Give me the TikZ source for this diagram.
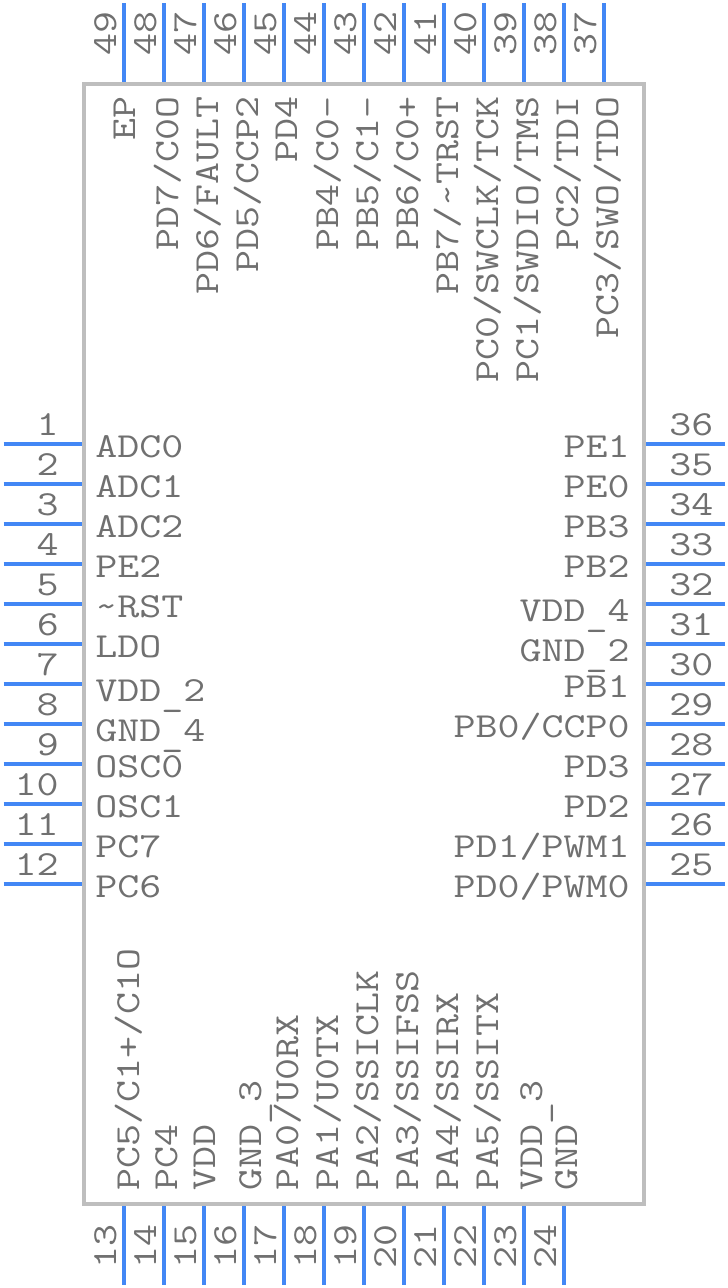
\documentclass[tikz,border=0pt]{standalone}
\usepackage{fontspec}
\setmonofont[FakeStretch=1.215]{Latin Modern Mono}
\definecolor{bodygray}{HTML}{BEBEBE}
\definecolor{pinblue}{HTML}{4287F5}
\definecolor{textgray}{HTML}{707070}
\newcommand{\lowbar}{\raisebox{-3.2pt}{\_}}
\tikzset{
  chip/.style={draw=bodygray, line width=2.85pt, rectangle, inner sep=0pt, minimum width=14cm, minimum height=28cm},
  pinline/.style={pinblue, line width=2.85pt},
  lbl/.style={text=textgray, inner sep=0pt, font=\ttfamily\fontsize{25}{30}\selectfont},
  lbll/.style={lbl, anchor=base west},
  lblr/.style={lbl, anchor=base east},
  lblt/.style={lbl, anchor=base east, rotate=90},
  lblb/.style={lbl, anchor=base west, rotate=90}
}
\begin{document}
\begin{tikzpicture}[x=0.025cm, y=-0.025cm]
  \useasboundingbox (0, 0) rectangle (728, 1288);
  \node at (364, 644) [chip] (body) {};

  % pins and their numbers
  \foreach \n [evaluate=\n as \y using {444+40*(\n-1)}] in {1, 2, ..., 12} {
    \coordinate (pin\n) at (3.5, \y);
    \draw[pinline] (pin\n) -- (body.west |- pin\n);
    \node at (59, \y-9) [lblr] (num\n) {\n};
  }
  \foreach \n [evaluate=\n as \x using {124+40*(\n-13)}] in {13, 14, ..., 24} {
    \coordinate (pin\n) at (\x, 1284.5);
    \draw[pinline] (pin\n) -- (body.south -| pin\n);
    \node at (\x-8, 1269) [lblb] (num\n) {\n};
  }
  \foreach \n [evaluate=\n as \y using {884-40*(\n-25)}] in {25, 26, ..., 36} {
    \coordinate (pin\n) at (724.5, \y);
    \draw[pinline] (pin\n) -- (body.east |- pin\n);
    \node at (669, \y-9) [lbll] (num\n) {\n};
  }
  \foreach \n [evaluate=\n as \x using {604-40*(\n-37)}] in {37, 38, ..., 49} {
    \coordinate (pin\n) at (\x, 3.5);
    \draw[pinline] (pin\n) -- (body.north -| pin\n);
    \node at (\x-8, 56) [lblb] (num\n) {\n};
  }

  % left side
  \node at (95, 457) [lbll] (adc0) {ADC0};
  \node at (95, 497) [lbll] (adc1) {ADC1};
  \node at (95, 537) [lbll] (adc2) {ADC2};
  \node at (95, 577) [lbll] (pe2) {PE2};
  \node at (95, 617) [lbll] (rst) {\textasciitilde RST};
  \node at (95, 657) [lbll] (ldo) {LDO};
  \node at (95, 701) [lbll] (vdd2) {VDD\lowbar 2};
  \node at (95, 741) [lbll] (gnd4) {GND\lowbar 4};
  \node at (95, 777) [lbll] (osc0) {OSC0};
  \node at (95, 817) [lbll] (osc1) {OSC1};
  \node at (95, 857) [lbll] (pc7) {PC7};
  \node at (95, 897) [lbll] (pc6) {PC6};

  % right side
  \node at (630, 457) [lblr] (pe1) {PE1};
  \node at (630, 497) [lblr] (pe0) {PE0};
  \node at (630, 537) [lblr] (pb3) {PB3};
  \node at (630, 577) [lblr] (pb2) {PB2};
  \node at (630, 621) [lblr] (vdd4) {VDD\lowbar 4};
  \node at (630, 661) [lblr] (gnd2) {GND\lowbar 2};
  \node at (630, 697) [lblr] (pb1) {PB1};
  \node at (630, 737) [lblr] (pb0) {PB0/CCP0};
  \node at (630, 777) [lblr] (pd3) {PD3};
  \node at (630, 817) [lblr] (pd2) {PD2};
  \node at (630, 857) [lblr] (pd1) {PD1/PWM1};
  \node at (630, 897) [lblr] (pd0) {PD0/PWM0};

  % top side
  \node at (135, 96) [lblt] (ep) {EP};
  \node at (178, 96) [lblt] (pd7) {PD7/C0O};
  \node at (218, 96) [lblt] (pd6) {PD6/FAULT};
  \node at (258, 96) [lblt] (pd5) {PD5/CCP2};
  \node at (297, 96) [lblt] (pd4) {PD4};
  \node at (338, 96) [lblt] (pb4) {PB4/C0-};
  \node at (378, 96) [lblt] (pb5) {PB5/C1-};
  \node at (418, 96) [lblt] (pb6) {PB6/C0+};
  \node at (458, 96) [lblt] (pb7) {PB7/\textasciitilde TRST};
  \node at (498, 96) [lblt] (pc0) {PC0/SWCLK/TCK};
  \node at (538, 96) [lblt] (pc1) {PC1/SWDIO/TMS};
  \node at (578, 96) [lblt] (pc2) {PC2/TDI};
  \node at (618, 96) [lblt] (pc3) {PC3/SWO/TDO};

  % bottom side
  \node at (139, 1191) [lblb] (pc5) {PC5/C1+/C1O};
  \node at (177, 1191) [lblb] (pc4) {PC4};
  \node at (215, 1191) [lblb] (vdd) {VDD};
  \node at (261, 1191) [lblb] (gnd3) {GND\lowbar 3};
  \node at (298, 1191) [lblb] (pa0) {PA0/U0RX};
  \node at (338, 1191) [lblb] (pa1) {PA1/U0TX};
  \node at (378, 1191) [lblb] (pa2) {PA2/SSICLK};
  \node at (418, 1191) [lblb] (pa3) {PA3/SSIFSS};
  \node at (458, 1191) [lblb] (pa4) {PA4/SSIRX};
  \node at (498, 1191) [lblb] (pa5) {PA5/SSITX};
  \node at (542, 1191) [lblb] (vdd3) {VDD\lowbar 3};
  \node at (577, 1191) [lblb] (gnd) {GND};
\end{tikzpicture}
\end{document}
